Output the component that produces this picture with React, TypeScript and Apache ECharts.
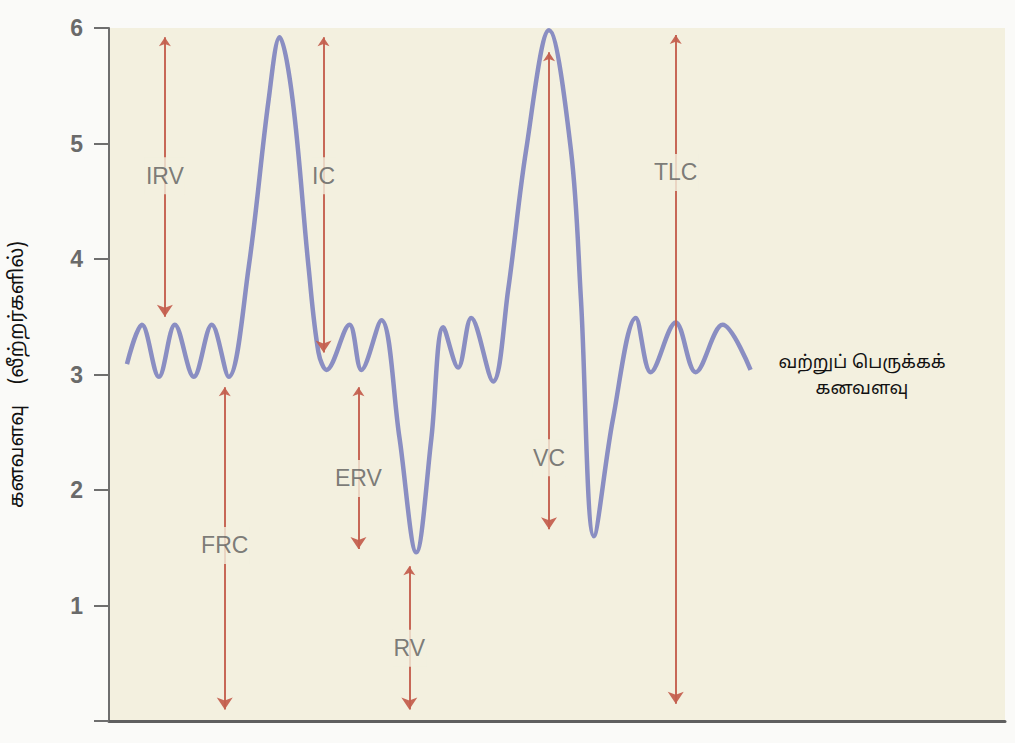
import React, { useEffect, useRef } from "react";
import * as echarts from "echarts";

// Spirogram trace: time position (x) and lung volume in litres (y)
const traceX = [18, 33, 50, 66, 85, 103, 120, 140, 160, 171, 184, 200, 210, 218, 241, 253, 273, 291, 308, 323, 335, 350, 363, 385, 400, 418, 441, 463, 473, 486, 505, 528, 543, 568, 588, 615, 643];
const traceY = [3.09, 3.43, 2.98, 3.43, 2.98, 3.43, 2.98, 3.93, 5.38, 5.92, 5.38, 3.93, 3.19, 3.04, 3.43, 3.04, 3.47, 2.46, 1.46, 2.44, 3.41, 3.06, 3.49, 2.94, 3.73, 4.94, 5.98, 4.94, 3.65, 1.6, 2.61, 3.49, 3.02, 3.45, 3.02, 3.43, 3.04];

// Volume arrows
const arrowNames = ["IRV", "IC", "FRC", "ERV", "RV", "VC", "TLC"];
const arrowX = [56, 215, 116, 250, 301, 441, 568];
const arrowTop = [5.92, 5.92, 2.89, 2.89, 1.34, 5.79, 5.94];
const arrowBottom = [3.5, 3.19, 0.1, 1.49, 0.1, 1.66, 0.15];
const labelY = [4.72, 4.72, 1.52, 2.1, 0.63, 2.28, 4.75];

const yTicks = [0, 1, 2, 3, 4, 5, 6];
const yAxisTitle = "கனவளவு    (லீற்றர்களில்)";
const sideLabel = ["வற்றுப் பெருக்கக்", "கனவளவு"];

const CREAM = "#f3f0df";

export default function App() {
  const ref = useRef<HTMLDivElement>(null);
  useEffect(() => {
    if (!ref.current) return;
    const chart = echarts.init(ref.current, null, { renderer: "svg" });
    const tamilFont = "'Noto Sans Tamil', 'Lohit Tamil', 'Noto Sans', 'DejaVu Sans', sans-serif";
    chart.setOption({
      animation: false,
      backgroundColor: "#fafaf8",
      grid: {
        left: 107,
        right: 10,
        top: 28,
        bottom: 22,
        show: true,
        backgroundColor: CREAM,
        borderWidth: 0,
      },
      xAxis: {
        type: "value",
        min: 0,
        max: 898,
        axisLine: { show: true, lineStyle: { color: "#5f5f5f", width: 3 } },
        axisTick: { show: false },
        axisLabel: { show: false },
        splitLine: { show: false },
      },
      yAxis: {
        type: "value",
        min: yTicks[0],
        max: yTicks[yTicks.length - 1],
        interval: 1,
        name: yAxisTitle,
        nameLocation: "middle",
        nameRotate: 90,
        nameGap: 81,
        nameTextStyle: { color: "#111", fontSize: 20, fontFamily: tamilFont },
        axisLine: { show: true, lineStyle: { color: "#6e6e6e", width: 2 } },
        axisTick: { show: true, length: 15, lineStyle: { color: "#6e6e6e", width: 2 } },
        axisLabel: {
          margin: 26,
          color: "#6a6a6a",
          fontSize: 23,
          fontWeight: "bold",
          fontFamily: "'Liberation Sans', Arial, sans-serif",
          formatter: (v: number) => (v === 0 ? "" : String(v)),
        },
        splitLine: { show: false },
      },
      series: [
        {
          type: "line",
          data: traceX.map((x, i) => [x, traceY[i]]),
          smooth: 0.35,
          symbol: "none",
          z: 2,
          lineStyle: { color: "#8a8ec2", width: 4.5 },
        },
        {
          type: "lines",
          coordinateSystem: "cartesian2d",
          z: 3,
          symbol: ["arrow", "arrow"],
          symbolSize: [9, 12],
          lineStyle: { color: "#c4604f", width: 2, opacity: 0.95, curveness: 0 },
          itemStyle: { color: "#b83e30" },
          data: arrowNames.map((n, i) => ({
            name: n,
            coords: [
              [arrowX[i], arrowTop[i]],
              [arrowX[i], arrowBottom[i]],
            ],
          })),
        },
        {
          type: "scatter",
          z: 4,
          symbolSize: 0,
          data: arrowNames.map((n, i) => ({ name: n, value: [arrowX[i], labelY[i]] })),
          label: {
            show: true,
            position: "inside",
            formatter: "{b}",
            color: "#5c5c5c",
            fontSize: 23,
            fontFamily: "'Liberation Sans Narrow', 'Liberation Sans', Arial, sans-serif",
            backgroundColor: CREAM,
            padding: [7, 1],
          },
        },
      ],
      graphic: [
        {
          type: "text",
          x: 862,
          y: 350,
          style: {
            text: sideLabel.join("\n"),
            textAlign: "center",
            fill: "#111",
            fontSize: 18,
            lineHeight: 26,
            fontFamily: tamilFont,
          },
        },
      ],
    });
    return () => chart.dispose();
  }, []);
  return (
    <div
      ref={ref}
      style={{ position: "absolute", left: 0, top: 0, width: 1015, height: 743 }}
    />
  );
}
